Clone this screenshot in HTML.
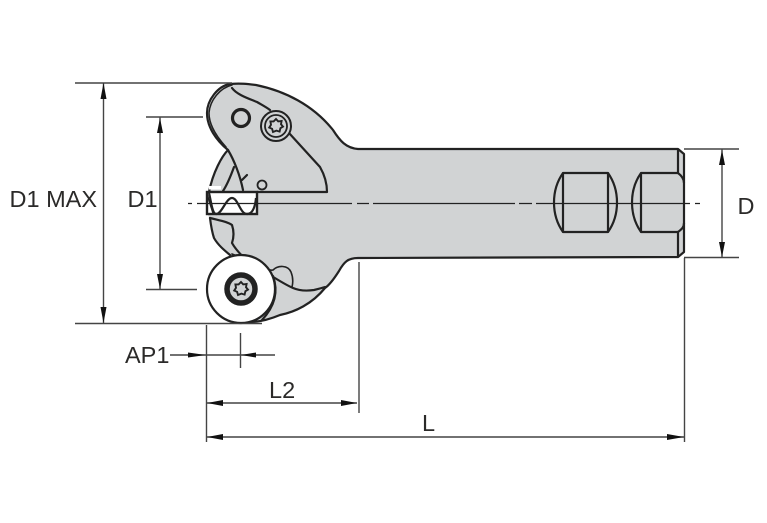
<!DOCTYPE html>
<html><head><meta charset="utf-8"><style>
html,body{margin:0;padding:0;background:#fff}
svg{display:block}
text{font-family:"Liberation Sans",sans-serif;font-size:23.5px;fill:#2b2a29}
</style></head><body>
<svg width="767" height="523" viewBox="0 0 767 523" xmlns="http://www.w3.org/2000/svg">
<defs>
<path id="star" d="M0,-7 L2.2,-4.6 L5.6,-5 L5,-1.8 L7,0.6 L4.4,2.2 L3.6,5.6 L0.4,4.6 L-3,6 L-3.9,2.8 L-6.8,1.6 L-5,-1.2 L-5.6,-4.6 L-2.4,-4.6 Z" fill="none" stroke="#222" stroke-width="1.9"/>
</defs>
<!-- body -->
<path d="M230,84 C240,83 248,84 256,85 C285,91 313,105 333,130 C340,141 346,148 358,149 L678,149 L684,154 L684,252 L678,257 L358,258 C348,258 344,262 339,271 C332,282 328,286 325,288 C312,304 295,312 280,315 C268,320 255,322 240,323 L230,255 L214,238 L210,218 L206,213 L206,192 L209,192 C213,172 222,156 228,150 C216,140 207,127 207,112 C207,100 218,86 230,84 Z" fill="#d1d3d4"/>
<g fill="none" stroke="#222" stroke-width="2.2" stroke-linejoin="round" stroke-linecap="round">
<path d="M230,84 C240,83 248,84 256,85 C285,91 313,105 333,130 C340,141 346,148 358,149 L678,149 L684,154 L684,252 L678,257 L358,258 C348,258 344,262 339,271 C332,282 328,286 325,288 C312,304 295,312 280,315 C268,320 258,322 250,322"/>
<path d="M230,84 C218,86 207,100 207,113 C207,127 216,140 228,150 C234,160 240,175 243,190"/>
<path d="M232,85 C220,88 210,100 209,113 C209,125 216,136 226,147" stroke-width="1.5"/>
<path d="M232,88 C237,95 250,99 257,102 C262,105 266,107 270,110 M289,133 L320,167 C324,174 327,183 327,192 L257,192"/>
<path d="M228,150 C222,156 213,172 209,192 M234,167 C230,178 227,185 223,191 M242,180 L247,175"/>
<path d="M210,218 C222,221 228,222 232,225 C234,231 234,237 232,243 C236,250 244,258 250,263 C258,268 263,272 270,275 C278,280 286,285 293,288 C300,291 307,291 314,290 C318,289 322,288 325,287"/>
<path d="M210,218 C211,226 212,232 214,238 C218,245 224,250 230,255"/>
<path d="M232,254 C240,257 246,261 251,264 C246,266 240,264 232,254 M262,271 C268,268 270,271 273,270 C278,265 288,265 291,272 C293,277 293,283 292,287" stroke-width="1.6"/>
<path d="M273,276 C278,290 276,305 262,320"/>
</g>
<circle cx="262" cy="185" r="4.5" fill="none" stroke="#222" stroke-width="1.8"/>
<rect x="209" y="186" width="12" height="3.5" fill="#fff"/>
<path d="M222,192 L233,192" stroke="#222" stroke-width="1.6" fill="none"/>
<!-- insert at pocket -->
<rect x="207" y="192" width="50" height="22" fill="#fff" stroke="#222" stroke-width="2.4"/>
<path d="M209,193 C211,200 212,214 216,214 C222,214 226,198 232,198 C238,198 240,214 247,214 C252,214 255,208 256,198" fill="none" stroke="#222" stroke-width="2.2"/>
<path d="M207,194 L213,213" stroke="#222" stroke-width="1.6" fill="none"/>
<!-- holes and screws -->
<circle cx="241" cy="118" r="8.500" fill="#d1d3d4" stroke="#222" stroke-width="3.200"/>
<circle cx="276" cy="126" r="15" fill="#d1d3d4" stroke="#222" stroke-width="2"/>
<circle cx="276" cy="126" r="11" fill="#d1d3d4" stroke="#222" stroke-width="1.8"/>
<use href="#star" x="276" y="126"/>
<!-- round insert -->
<circle cx="241" cy="289" r="34" fill="#fff" stroke="#222" stroke-width="2.2"/>
<circle cx="241" cy="289" r="14" fill="#d1d3d4" stroke="#222" stroke-width="5.500"/>
<use href="#star" x="241" y="289"/>
<!-- flats -->
<g fill="none" stroke="#222" stroke-width="2.2" stroke-linejoin="round">
<rect x="563" y="173" width="45" height="59"/>
<path d="M563,173 C551,190 551,215 563,232 M608,173 C620,190 620,215 608,232"/>
<path d="M678,173 L641,173 L641,232 L678,232 M641,173 C629,190 629,215 641,232"/>
<path d="M678,149 L678,173 M678,232 L678,257 M678,173 C682,176 684,179 684,183 M684,223 C684,227 682,229 678,232"/>
</g>
<!-- centerline -->
<path d="M188,203.5 H192 M197,203.5 H352 M357,203.5 H369 M373,203.5 H515 M519,203.5 H532 M536,203.5 H690 M695,203.5 H700" stroke="#222" stroke-width="1.3" fill="none"/>
<!-- dimension lines -->
<g fill="none" stroke="#444" stroke-width="1.4">
<path d="M75,83 H232 M75,323.5 H262 M146,117 H203 M146,289.5 H197"/>
<path d="M103.5,83 V323 M160,117 V289"/>
<path d="M684,149 H739 M684,257.5 H739 M722,149 V257"/>
<path d="M206.5,325 V442 M359,262 V413 M684.5,258 V442"/>
<path d="M170,355 H275 M240.5,333 V368 M207,403 H357 M207,437 H684"/>
</g>
<g fill="#111">
<path d="M103.5,83 L100.5,99 H106.5Z M103.5,323 L100.5,307 H106.5Z"/>
<path d="M160,118 L157,133 H163Z M160,289 L157,274 H163Z"/>
<path d="M722,150 L719,165 H725Z M722,257 L719,242 H725Z"/>
<path d="M206,355 L188,352.500 V357.500Z M241,355 L256,352.500 V357.500Z"/>
<path d="M207,403 L223,400 V406Z M357,403 L341,400 V406Z"/>
<path d="M207,437 L223,434 V440Z M684,437 L667,434 V440Z"/>
</g>
<!-- labels -->
<text x="9.500" y="207">D1 MAX</text>
<text x="127.500" y="207">D1</text>
<text x="737.500" y="214">D</text>
<text x="125" y="363">AP1</text>
<text x="269" y="398">L2</text>
<text x="422" y="431">L</text>
</svg>
</body></html>
